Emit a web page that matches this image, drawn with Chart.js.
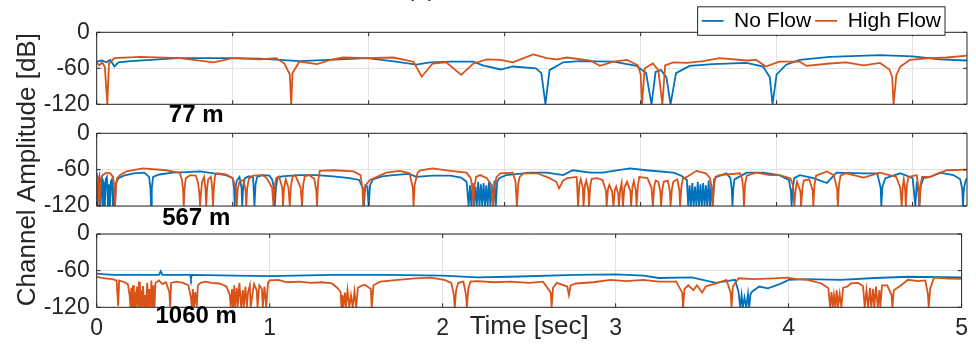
<!DOCTYPE html>
<html>
<head>
<meta charset="utf-8">
<script src="https://cdn.jsdelivr.net/npm/chart.js"></script>
<style>
  body { margin: 0; background: #fff; }
  #fig { position: relative; width: 976px; height: 344px; }
  #fig canvas { position: absolute; left: 0; top: 0; }
</style>
</head>
<body>
<div id="fig">
  <canvas id="c77" width="976" height="344"></canvas>
  <canvas id="c567" width="976" height="344"></canvas>
  <canvas id="c1060" width="976" height="344"></canvas>
</div>
<script>
const seriesNames = ['No Flow', 'High Flow'];
const seriesColors = ['#0072BD', '#D95319'];
const panelNames = ['77 m', '567 m', '1060 m'];
const yTicks = [-120, -60, 0];
const topTimeTicks = [0, 1, 2, 3, 4, 5, 6];   // unlabelled grid of the two upper panels
const timeTicks = [0, 1, 2, 3, 4, 5];

// [time s, amplitude dB]
const noFlow77 = [[0,-49],[0.04,-47],[0.07,-50],[0.1,-46],[0.13,-57],[0.16,-50],[0.25,-48],[0.4,-46],[0.6,-43],
  [0.76,-43],[1.0,-43],[1.2,-44],[1.49,-48],[1.7,-46],[1.99,-43],[2.2,-49],[2.35,-54],[2.45,-50],[2.6,-49],
  [2.77,-49],[2.84,-55],[2.97,-62],[3.06,-57],[3.23,-60],[3.27,-68],[3.3,-120],[3.33,-63],[3.43,-50],[3.55,-48],
  [3.8,-49],[3.97,-56],[4.04,-68],[4.08,-120],[4.11,-66],[4.15,-63],[4.19,-75],[4.22,-120],[4.26,-68],[4.36,-56],
  [4.53,-53],[4.78,-51],[4.9,-57],[4.95,-75],[4.97,-120],[5.0,-70],[5.07,-54],[5.17,-46],[5.39,-41],[5.76,-38],
  [6.0,-40],[6.2,-45],[6.4,-47]];
const highFlow77 = [[0,-51],[0.02,-55],[0.04,-50],[0.06,-58],[0.078,-120],[0.09,-52],[0.13,-43],[0.32,-41],
  [0.61,-43],[0.86,-50],[1.0,-43],[1.2,-45],[1.32,-43],[1.38,-52],[1.42,-70],[1.43,-120],[1.44,-68],[1.49,-49],
  [1.62,-53],[1.72,-46],[1.81,-42],[1.99,-43],[2.18,-42],[2.33,-49],[2.39,-74],[2.47,-52],[2.57,-50],[2.68,-71],
  [2.77,-52],[2.87,-45],[2.97,-46],[3.06,-50],[3.21,-37],[3.31,-43],[3.38,-45],[3.46,-42],[3.63,-47],[3.7,-56],
  [3.8,-49],[3.9,-46],[3.98,-55],[4.0,-70],[4.01,-120],[4.03,-60],[4.09,-52],[4.13,-63],[4.16,-120],[4.18,-55],
  [4.24,-50],[4.34,-51],[4.46,-48],[4.58,-43],[4.78,-47],[4.85,-46],[4.92,-57],[5.02,-49],[5.17,-49],[5.22,-56],
  [5.39,-52],[5.51,-50],[5.64,-55],[5.76,-51],[5.83,-62],[5.85,-75],[5.86,-120],[5.88,-72],[5.91,-57],[5.98,-46],
  [6.13,-43],[6.25,-42],[6.4,-39]];

const noFlow567 = [[0,-75],[0.005,-120],[0.012,-80],[0.02,-72],[0.028,-120],[0.034,-82],[0.04,-76],[0.046,-120],
  [0.052,-80],[0.06,-120],[0.066,-76],[0.075,-72],[0.083,-120],[0.09,-84],[0.097,-120],[0.104,-80],[0.112,-76],
  [0.12,-120],[0.127,-88],[0.134,-120],[0.142,-82],[0.16,-74],[0.2,-70],[0.27,-66],[0.35,-65],[0.385,-72],
  [0.395,-90],[0.4,-120],[0.405,-90],[0.415,-72],[0.46,-68],[0.56,-65],[0.66,-64],[0.76,-63],[0.86,-66],[0.95,-69],
  [1.0,-74],[1.01,-90],[1.015,-120],[1.022,-88],[1.03,-78],[1.05,-72],[1.065,-90],[1.07,-120],[1.078,-86],
  [1.09,-74],[1.12,-71],[1.15,-73],[1.16,-120],[1.168,-84],[1.18,-72],[1.22,-69],[1.27,-70],[1.29,-76],[1.305,-92],
  [1.31,-120],[1.318,-90],[1.33,-74],[1.36,-71],[1.49,-69],[1.61,-69],[1.74,-71],[1.86,-74],[1.93,-77],[1.96,-92],
  [1.965,-120],[1.975,-86],[1.99,-88],[2.0,-120],[2.01,-86],[2.03,-76],[2.1,-71],[2.18,-69],[2.3,-67],[2.35,-72],
  [2.47,-70],[2.6,-70],[2.68,-73],[2.72,-80],[2.735,-120],[2.745,-86],[2.755,-120],[2.765,-82],[2.775,-120],
  [2.785,-88],[2.795,-120],[2.805,-80],[2.815,-120],[2.825,-84],[2.835,-120],[2.845,-82],[2.855,-120],[2.865,-86],
  [2.875,-120],[2.885,-80],[2.895,-120],[2.905,-84],[2.915,-120],[2.925,-78],[2.935,-120],[2.945,-80],[2.96,-74],
  [3.01,-69],[3.19,-65],[3.31,-65],[3.43,-69],[3.5,-61],[3.63,-65],[3.72,-65],[3.92,-58],[4.04,-61],[4.24,-65],
  [4.3,-70],[4.34,-77],[4.35,-120],[4.36,-86],[4.37,-120],[4.38,-82],[4.39,-120],[4.4,-88],[4.41,-120],[4.42,-80],
  [4.43,-120],[4.44,-84],[4.45,-120],[4.46,-82],[4.47,-120],[4.48,-86],[4.49,-120],[4.5,-78],[4.51,-120],
  [4.52,-84],[4.53,-120],[4.54,-76],[4.56,-72],[4.63,-66],[4.66,-74],[4.67,-92],[4.675,-120],[4.682,-90],
  [4.69,-76],[4.78,-65],[4.9,-65],[5.02,-69],[5.09,-77],[5.105,-95],[5.11,-120],[5.118,-92],[5.13,-74],[5.17,-69],
  [5.27,-74],[5.37,-82],[5.44,-65],[5.64,-66],[5.74,-66],[5.765,-90],[5.77,-120],[5.778,-88],[5.8,-74],[5.91,-66],
  [6.0,-74],[6.01,-95],[6.02,-120],[6.03,-84],[6.04,-90],[6.05,-120],[6.06,-86],[6.08,-74],[6.13,-72],[6.2,-65],
  [6.3,-69],[6.35,-76],[6.365,-92],[6.37,-120],[6.378,-90],[6.39,-78],[6.4,-74]];
const highFlow567 = [[0,-66],[0.01,-74],[0.02,-120],[0.03,-76],[0.04,-70],[0.07,-65],[0.1,-66],[0.12,-72],
  [0.13,-88],[0.135,-120],[0.142,-86],[0.15,-74],[0.17,-69],[0.22,-63],[0.34,-58],[0.51,-61],[0.61,-65],[0.625,-75],
  [0.635,-92],[0.64,-120],[0.647,-90],[0.655,-74],[0.69,-69],[0.73,-70],[0.745,-82],[0.755,-100],[0.76,-120],
  [0.768,-96],[0.775,-80],[0.79,-72],[0.8,-92],[0.805,-120],[0.812,-90],[0.82,-76],[0.84,-72],[0.85,-92],
  [0.855,-120],[0.862,-88],[0.87,-70],[0.88,-66],[0.95,-68],[1.0,-74],[1.025,-92],[1.03,-120],[1.037,-92],
  [1.05,-80],[1.08,-77],[1.095,-95],[1.1,-120],[1.107,-90],[1.12,-74],[1.15,-70],[1.22,-69],[1.25,-74],[1.29,-90],
  [1.3,-120],[1.308,-88],[1.32,-74],[1.34,-71],[1.365,-90],[1.37,-120],[1.378,-90],[1.39,-76],[1.41,-90],
  [1.42,-120],[1.428,-88],[1.44,-72],[1.46,-69],[1.5,-90],[1.51,-120],[1.518,-86],[1.53,-71],[1.56,-69],[1.6,-75],
  [1.615,-95],[1.62,-120],[1.628,-80],[1.64,-62],[1.74,-61],[1.89,-63],[1.94,-69],[1.955,-92],[1.96,-120],
  [1.968,-95],[1.98,-85],[2.01,-77],[2.06,-72],[2.13,-65],[2.23,-62],[2.3,-66],[2.325,-90],[2.33,-120],
  [2.338,-85],[2.36,-65],[2.38,-61],[2.47,-58],[2.6,-62],[2.72,-65],[2.75,-74],[2.765,-92],[2.77,-120],
  [2.778,-88],[2.79,-72],[2.82,-69],[2.87,-74],[2.9,-84],[2.915,-120],[2.925,-90],[2.94,-72],[2.97,-66],[3.06,-65],
  [3.08,-80],[3.09,-120],[3.1,-84],[3.11,-72],[3.14,-66],[3.24,-66],[3.33,-74],[3.38,-80],[3.4,-91],[3.43,-78],
  [3.46,-74],[3.53,-72],[3.54,-120],[3.55,-84],[3.56,-76],[3.575,-90],[3.58,-120],[3.59,-86],[3.6,-78],
  [3.615,-92],[3.62,-120],[3.63,-86],[3.64,-75],[3.68,-74],[3.72,-77],[3.745,-95],[3.75,-120],[3.76,-92],
  [3.77,-85],[3.79,-96],[3.8,-120],[3.81,-94],[3.82,-88],[3.835,-100],[3.84,-120],[3.85,-92],[3.86,-82],
  [3.87,-120],[3.88,-90],[3.9,-80],[3.925,-96],[3.93,-120],[3.94,-88],[3.95,-79],[3.965,-95],[3.97,-120],
  [3.98,-86],[3.99,-72],[4.05,-74],[4.08,-90],[4.09,-120],[4.1,-88],[4.11,-78],[4.13,-80],[4.145,-96],[4.15,-120],
  [4.16,-92],[4.17,-80],[4.2,-78],[4.215,-96],[4.22,-120],[4.23,-92],[4.24,-80],[4.27,-76],[4.285,-94],[4.29,-120],
  [4.3,-88],[4.31,-75],[4.34,-72],[4.41,-62],[4.48,-66],[4.51,-74],[4.525,-94],[4.53,-120],[4.54,-86],[4.55,-72],
  [4.58,-69],[4.73,-66],[4.745,-74],[4.755,-92],[4.76,-120],[4.768,-84],[4.78,-70],[4.85,-65],[4.95,-69],
  [5.02,-69],[5.1,-74],[5.12,-85],[5.13,-120],[5.14,-92],[5.15,-80],[5.175,-96],[5.18,-120],[5.19,-90],[5.2,-78],
  [5.24,-76],[5.265,-94],[5.27,-120],[5.278,-86],[5.29,-70],[5.37,-63],[5.42,-69],[5.445,-92],[5.45,-120],
  [5.458,-86],[5.47,-70],[5.51,-66],[5.64,-73],[5.76,-65],[5.88,-72],[5.91,-90],[5.92,-120],[5.928,-88],
  [5.935,-76],[5.945,-92],[5.95,-120],[5.958,-86],[5.97,-72],[6.03,-69],[6.045,-92],[6.05,-120],[6.058,-86],
  [6.07,-72],[6.13,-72],[6.25,-61],[6.4,-60]];

const noFlow1060 = [[0,-65],[0.05,-66],[0.1,-67],[0.36,-67],[0.37,-61],[0.38,-67],[0.54,-67],[0.545,-73],[0.55,-67],
  [0.8,-68],[1.0,-69],[1.36,-67],[1.7,-67],[2.0,-68],[2.2,-71],[2.39,-70],[2.77,-67],[3.0,-66],[3.16,-68],[3.25,-72],
  [3.44,-71],[3.58,-80],[3.64,-77],[3.69,-75],[3.71,-94],[3.72,-120],[3.728,-100],[3.735,-120],[3.745,-104],
  [3.755,-120],[3.765,-98],[3.772,-120],[3.78,-98],[3.79,-94],[3.83,-86],[3.88,-89],[3.94,-83],[3.98,-78],[4.0,-75],
  [4.11,-74],[4.3,-75],[4.5,-72],[4.69,-70],[5.0,-71]];
const highFlow1060 = [[0,-70],[0.03,-72],[0.06,-73],[0.09,-74],[0.115,-76],[0.124,-118],[0.13,-76],[0.16,-79],
  [0.18,-82],[0.19,-100],[0.195,-120],[0.2,-88],[0.205,-120],[0.21,-84],[0.215,-120],[0.22,-95],[0.225,-120],
  [0.232,-86],[0.238,-120],[0.245,-78],[0.25,-120],[0.256,-92],[0.262,-120],[0.268,-85],[0.274,-120],[0.28,-100],
  [0.286,-120],[0.292,-80],[0.298,-120],[0.304,-90],[0.31,-120],[0.316,-76],[0.322,-120],[0.328,-84],[0.334,-120],
  [0.34,-80],[0.36,-76],[0.38,-82],[0.4,-79],[0.42,-95],[0.425,-120],[0.43,-80],[0.46,-78],[0.5,-80],[0.53,-84],
  [0.545,-105],[0.55,-120],[0.556,-90],[0.562,-120],[0.57,-95],[0.578,-120],[0.585,-84],[0.6,-80],[0.63,-78],
  [0.66,-80],[0.71,-81],[0.75,-86],[0.77,-100],[0.775,-120],[0.782,-90],[0.788,-120],[0.795,-84],[0.8,-120],
  [0.81,-88],[0.815,-120],[0.825,-80],[0.835,-120],[0.845,-92],[0.85,-120],[0.86,-86],[0.868,-120],[0.875,-95],
  [0.885,-84],[0.89,-120],[0.9,-100],[0.91,-82],[0.925,-92],[0.93,-120],[0.94,-84],[0.955,-90],[0.96,-120],
  [0.97,-86],[0.98,-120],[0.99,-80],[1.0,-76],[1.05,-75],[1.1,-79],[1.17,-78],[1.24,-80],[1.3,-79],[1.36,-81],
  [1.39,-88],[1.41,-95],[1.415,-120],[1.42,-100],[1.425,-120],[1.435,-96],[1.44,-120],[1.45,-92],[1.46,-120],
  [1.47,-100],[1.48,-120],[1.49,-94],[1.5,-120],[1.51,-88],[1.53,-85],[1.55,-83],[1.585,-90],[1.59,-120],
  [1.6,-84],[1.64,-78],[1.74,-75],[1.84,-72.5],[1.93,-71.5],[2.01,-75],[2.05,-80],[2.065,-100],[2.07,-120],
  [2.078,-92],[2.09,-80],[2.12,-78],[2.135,-100],[2.14,-120],[2.148,-90],[2.16,-78],[2.2,-77],[2.3,-79],[2.39,-78],
  [2.5,-80],[2.58,-78],[2.625,-96],[2.63,-120],[2.638,-88],[2.66,-80],[2.72,-86],[2.73,-100],[2.74,-84],[2.77,-81],
  [2.87,-79],[2.97,-75],[3.06,-77],[3.16,-75],[3.25,-78],[3.35,-78],[3.385,-96],[3.39,-120],[3.398,-90],[3.42,-84],
  [3.45,-92],[3.47,-84],[3.5,-96],[3.52,-86],[3.54,-84],[3.58,-81],[3.64,-75],[3.665,-96],[3.67,-120],[3.678,-86],
  [3.71,-72.5],[3.8,-74],[3.92,-72.5],[3.99,-71.5],[4.05,-74],[4.11,-75],[4.19,-81],[4.23,-89],[4.24,-120],
  [4.248,-95],[4.255,-120],[4.262,-100],[4.27,-120],[4.278,-92],[4.285,-120],[4.295,-98],[4.305,-120],[4.315,-88],
  [4.34,-86],[4.36,-81],[4.4,-80],[4.43,-85],[4.44,-120],[4.45,-92],[4.46,-120],[4.47,-88],[4.478,-120],[4.488,-90],
  [4.495,-120],[4.505,-86],[4.515,-120],[4.525,-92],[4.53,-120],[4.54,-84],[4.57,-84],[4.595,-100],[4.6,-120],
  [4.608,-92],[4.65,-84],[4.69,-75],[4.75,-77],[4.79,-76],[4.805,-98],[4.81,-120],[4.818,-90],[4.84,-71.5],
  [4.92,-73],[5.0,-73.5]];

const tickFont = { family: '"Liberation Sans", Arial, sans-serif', size: 23 };
const titleFont = { family: '"Liberation Sans", Arial, sans-serif', size: 26 };
const ink = '#262626';

// box round the axes, inward tick marks and the distance label under each panel
function makeFrame(label, dy) {
  return {
    id: 'frame',
    afterDatasetsDraw(chart) {
      const { ctx, chartArea: a, scales } = chart;
      ctx.save();
      ctx.strokeStyle = ink;
      ctx.lineWidth = 1;
      ctx.beginPath();
      ctx.rect(a.left, a.top, a.right - a.left, a.bottom - a.top);
      scales.x.ticks.forEach(t => {
        const px = scales.x.getPixelForValue(t.value);
        ctx.moveTo(px, a.top); ctx.lineTo(px, a.top + 4);
        ctx.moveTo(px, a.bottom); ctx.lineTo(px, a.bottom - 4);
      });
      scales.y.ticks.forEach(t => {
        const py = scales.y.getPixelForValue(t.value);
        ctx.moveTo(a.left, py); ctx.lineTo(a.left + 4, py);
        ctx.moveTo(a.right, py); ctx.lineTo(a.right - 4, py);
      });
      ctx.stroke();
      ctx.fillStyle = '#000';
      ctx.font = 'bold 24px "Liberation Sans", Arial, sans-serif';
      ctx.textAlign = 'center';
      ctx.textBaseline = 'middle';
      ctx.fillText(label, a.left + 99.5, a.bottom + dy);
      ctx.restore();
    }
  };
}

// legend sits over the top edge of the first panel, boxed like matlab's
const legendBox = {
  id: 'legendBox',
  afterLayout(chart) {
    const lg = chart.legend;
    lg.left -= 22; lg.right -= 22;
    lg.bottom += 8;
  },
  afterDraw(chart) {
    const lg = chart.legend, hb = lg.legendHitBoxes, ctx = chart.ctx;
    const last = hb[hb.length - 1];
    const l = hb[0].left - 4, r = last.left + last.width + 4;
    const t = hb[0].top - 3.5, b = hb[0].top + hb[0].height + 4;
    ctx.save();
    ctx.fillStyle = '#fff';
    ctx.fillRect(l, t, r - l, b - t);
    ctx.strokeStyle = ink;
    ctx.lineWidth = 1;
    ctx.strokeRect(l, t, r - l, b - t);
    ctx.restore();
    lg.draw();
    // figure tag, mostly cut off by the top edge
    ctx.save();
    ctx.fillStyle = ink;
    ctx.font = '24px "Liberation Sans", Arial, sans-serif';
    ctx.textAlign = 'center';
    ctx.textBaseline = 'alphabetic';
    ctx.fillText('(a)', 421, -4);
    ctx.restore();
  }
};

function makeChart(id, noFlow, highFlow, cfg) {
  const toXY = arr => arr.map(([x, y]) => ({ x, y }));
  return new Chart(document.getElementById(id), {
    type: 'line',
    data: {
      datasets: [
        { label: seriesNames[0], data: toXY(noFlow), borderColor: seriesColors[0], backgroundColor: seriesColors[0],
          borderWidth: 1.8, pointRadius: 0, tension: 0, order: 1 },
        { label: seriesNames[1], data: toXY(highFlow), borderColor: seriesColors[1], backgroundColor: seriesColors[1],
          borderWidth: 1.8, pointRadius: 0, tension: 0, order: 0 }
      ]
    },
    options: {
      responsive: false,
      animation: false,
      devicePixelRatio: 1,
      events: [],
      layout: { padding: { left: 0, right: 9, top: cfg.top, bottom: cfg.bottom } },
      plugins: {
        tooltip: { enabled: false },
        legend: cfg.legend ? {
          display: true,
          position: 'top',
          align: 'end',
          maxHeight: 26,
          labels: {
            usePointStyle: true,
            pointStyle: 'line',
            pointStyleWidth: 22,
            padding: 4,
            color: '#000',
            font: { family: '"Liberation Sans", Arial, sans-serif', size: 21 },
            sort: (a, b) => a.datasetIndex - b.datasetIndex
          }
        } : { display: false }
      },
      scales: {
        x: {
          type: 'linear',
          min: 0,
          max: cfg.span,
          afterBuildTicks: s => { s.ticks = cfg.xTicks.map(v => ({ value: v })); },
          afterFit: s => { s.height = cfg.xHeight; },
          grid: { color: '#e3e3e3', drawTicks: false },
          border: { display: false },
          ticks: { display: cfg.showTime, font: tickFont, color: ink, padding: 8, maxRotation: 0, autoSkip: false },
          title: { display: cfg.showTime, text: 'Time [sec]', font: titleFont, color: ink,
                   padding: { top: 0, bottom: 2 } }
        },
        y: {
          min: -120,
          max: 0,
          afterBuildTicks: s => { s.ticks = yTicks.map(v => ({ value: v })); },
          afterFit: s => { s.width = 96.7; },
          grid: { color: '#e3e3e3', drawTicks: false },
          border: { display: false },
          ticks: { font: tickFont, color: ink, padding: 7 },
          title: { display: cfg.showYTitle, text: 'Channel Amplitude [dB]', font: titleFont, color: ink,
                   padding: { top: 12, bottom: 0 } }
        }
      }
    },
    plugins: cfg.legend ? [makeFrame(cfg.name, cfg.labelDy), legendBox] : [makeFrame(cfg.name, cfg.labelDy)]
  });
}

makeChart('c77', noFlow77, highFlow77, {
  name: panelNames[0], labelDy: 11.5, span: 6.4, xTicks: topTimeTicks, xHeight: 0,
  top: 6.3, bottom: 239.7, legend: true, showTime: false, showYTitle: false
});
makeChart('c567', noFlow567, highFlow567, {
  name: panelNames[1], labelDy: 12, span: 6.4, xTicks: topTimeTicks, xHeight: 0,
  top: 133.3, bottom: 138, legend: false, showTime: false, showYTitle: true
});
makeChart('c1060', noFlow1060, highFlow1060, {
  name: panelNames[2], labelDy: 9.5, span: 5, xTicks: timeTicks, xHeight: 36.7,
  top: 234, bottom: 0, legend: false, showTime: true, showYTitle: false
});
</script>
</body>
</html>
